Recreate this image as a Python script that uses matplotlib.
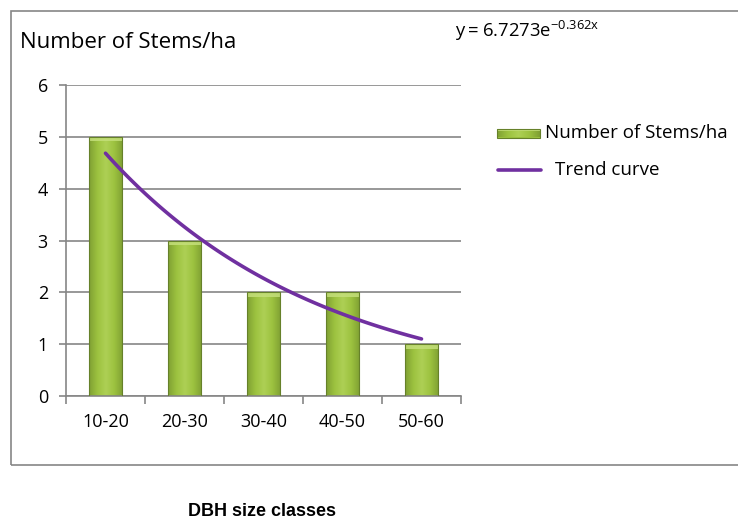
import numpy as np
import matplotlib
matplotlib.use("Agg")
import matplotlib.pyplot as plt
from matplotlib.patches import Rectangle
from matplotlib.colors import LinearSegmentedColormap

categories = ["10-20", "20-30", "30-40", "40-50", "50-60"]
stems = [5, 3, 2, 2, 1]
trend_a = 6.7273
trend_b = -0.362
y_ticks = [0, 1, 2, 3, 4, 5, 6]

plt.rcParams['font.family'] = ['Open Sans', 'DejaVu Sans']

fig = plt.figure(figsize=(7.38, 5.25), dpi=100)
W, H = 738, 525

# outer chart frame
frame = Rectangle((11 / W, 1 - 465 / H), (740 - 11) / W, (465 - 11) / H,
                  transform=fig.transFigure, fill=False, edgecolor='#868686', lw=1.2)
fig.add_artist(frame)

ax = fig.add_axes([66 / W, 1 - 396 / H, (461 - 66) / W, (396 - 85) / H])
x = np.arange(len(categories))

for s in ['top', 'right']:
    ax.spines[s].set_visible(False)
for s in ['left', 'bottom']:
    ax.spines[s].set_color('#868686')
    ax.spines[s].set_linewidth(1.2)

ax.set_yticks(y_ticks)
ax.yaxis.grid(True, color='#868686', lw=1.2)
ax.set_axisbelow(True)
ax.set_xticks(x)
ax.set_xticklabels(categories, fontsize=13)
ax.set_xticks(np.arange(-0.5, len(categories), 1), minor=True)
ax.tick_params(axis='x', which='major', length=0, pad=12)
ax.tick_params(axis='x', which='minor', length=6, color='#868686', width=1.2)
ax.tick_params(axis='y', length=5, color='#868686', width=1.2, labelsize=13, pad=8)

cmap = LinearSegmentedColormap.from_list('g', ['#7f9f33', '#9cc23f', '#aed055', '#9cc23f', '#7f9f33'])
grad = np.linspace(0, 1, 256).reshape(1, -1)
bw = 0.42


def draw_bar(axis, x0, y0, w, h, top_h):
    base = Rectangle((x0, y0), w, h, facecolor='#9cc23f', edgecolor='none', zorder=2)
    axis.add_patch(base)
    im = axis.imshow(grad, cmap=cmap, extent=[x0, x0 + w, y0, y0 + h],
                     aspect='auto', zorder=2.5, interpolation='bicubic')
    im.set_clip_path(base)
    axis.add_patch(Rectangle((x0, y0 + h - top_h), w, top_h, facecolor='#c4df7a',
                             edgecolor='none', alpha=0.85, zorder=2.6))
    axis.add_patch(Rectangle((x0, y0), w, h, fill=False, edgecolor='#66812a', lw=0.8, zorder=2.7))


for xi, v in zip(x, stems):
    draw_bar(ax, xi - bw / 2, 0, bw, v, 0.09)

xs = np.linspace(1, 5, 100)
ax.plot(xs - 1, trend_a * np.exp(trend_b * xs), color='#7030A0', lw=2.6,
        zorder=3, solid_capstyle='round')
ax.set_xlim(-0.5, len(categories) - 0.5)
ax.set_ylim(0, 6)

# legend drawn in figure pixel coordinates
lax = fig.add_axes([0, 0, 1, 1], facecolor='none')
lax.set_xlim(0, W)
lax.set_ylim(H, 0)
lax.axis('off')
draw_bar(lax, 497, 137.5, 43, -9, -2.5)
lax.plot([498, 541], [170, 170], color='#7030A0', lw=2.6, solid_capstyle='round')
lax.text(545, 133, "Number of Stems/ha", fontsize=13.5, va='center', ha='left')
lax.text(555, 170, "Trend curve", fontsize=13.5, va='center', ha='left')

fig.text(20 / W, 1 - 43 / H, "Number of Stems/ha", fontsize=16, va='center', ha='left')
fig.text(455 / W, 1 - 37 / H, r"$\mathregular{y = 6.7273e^{-0.362x}}$", fontsize=13.3,
         va='baseline', ha='left')
fig.text(262 / W, 1 - 512 / H, "DBH size classes", fontsize=13, fontweight='bold',
         family=['Liberation Sans', 'DejaVu Sans'], ha='center', va='center')

fig.savefig('out.png', dpi=100)
